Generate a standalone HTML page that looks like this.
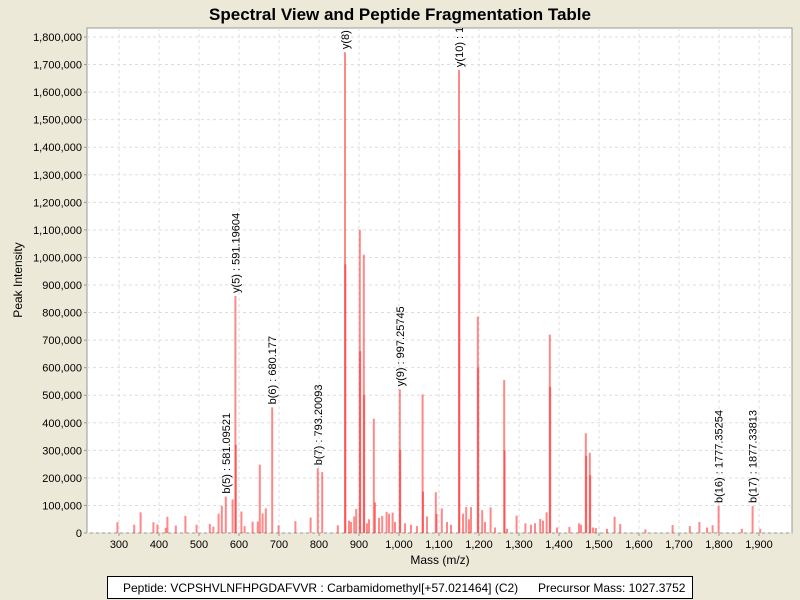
<!DOCTYPE html>
<html><head><meta charset="utf-8"><style>
body{margin:0;background:#ECE9D8;font-family:"Liberation Sans",sans-serif;}
svg{display:block}
</style></head><body>
<svg id="chart" width="800" height="600">
<rect width="800" height="600" fill="#ECE9D8"/>
<text x="400" y="20" text-anchor="middle" font-size="17" font-weight="bold">Spectral View and Peptide Fragmentation Table</text>
<defs><clipPath id="pc"><rect x="87" y="28" width="705" height="505"/></clipPath></defs>
<rect x="87" y="28" width="705" height="505" fill="#fff" stroke="#999"/>
<g id="grid"></g><g id="axes"></g><g id="bars" clip-path="url(#pc)"></g><g id="labels" clip-path="url(#pc)"></g>
<text x="440" y="564" text-anchor="middle" font-size="12">Mass (m/z)</text>
<text transform="translate(22,280) rotate(-90)" text-anchor="middle" font-size="12">Peak Intensity</text>
<rect x="107.5" y="576.5" width="585" height="22" fill="#fff" stroke="#000"/>
<text x="123" y="592" font-size="12">Peptide: VCPSHVLNFHPGDAFVVR : Carbamidomethyl[+57.021464] (C2)</text>
<text x="538" y="592" font-size="12">Precursor Mass: 1027.3752</text>
</svg>
<script>
const masses=[296,338,354,386,396,417,421,442,466,494,527,536,549,557,567,584,591,592,606,614,634,647,652,659,667,683,699,741,779,797,808,847,865,866,893,902,903,912,913,937,940,958,969,984,1002,1003,1059,1060,1092,1094,1107,1150,1151,1168,1180,1197,1198,1208,1229,1263,1264,1294,1316,1353,1369,1377,1378,1426,1450,1467,1468,1477,1478,1492,1539,1553,1616,1684,1727,1751,1784,1799,1857,1884,1903,875,880,888,920,925,950,975,990,1015,1030,1045,1070,1120,1130,1160,1175,1215,1240,1270,1330,1340,1360,1395,1455,1485,1520,1770];
const intens=[39,30,75,39,31,19,59,27,62,30,33,23,70,98,132,122,860,320,78,25,41,42,248,71,89,456,28,43,56,235,221,28,1745,975,87,1100,660,1010,500,415,111,62,77,74,521,300,503,150,148,69,89,1680,1390,94,94,785,600,83,93,555,300,63,35,51,75,720,530,22,35,362,280,291,210,18,59,33,13,29,25,40,28,98,15,98,15,45,40,60,35,50,55,70,40,35,30,25,60,40,30,70,50,40,20,15,30,35,45,20,30,20,15,20];
const labelText=["b(5) : 581.09521","y(5) : 591.19604","b(6) : 680.177","b(7) : 793.20093","y(8) : 862.31","y(9) : 997.25745","y(10) : 1147.3","b(16) : 1777.35254","b(17) : 1877.33813"];
const labelIdx=[14,16,25,29,32,44,51,81,83];
const yTicks=[0,100000,200000,300000,400000,500000,600000,700000,800000,900000,1000000,1100000,1200000,1300000,1400000,1500000,1600000,1700000,1800000];
const xTicks=[300,400,500,600,700,800,900,1000,1100,1200,1300,1400,1500,1600,1700,1800,1900];
const NS="http://www.w3.org/2000/svg";
const X=m=>119+(m-300)*0.4;
const Y=v=>533-v/1800000*496;
function mk(t,a,p){const e=document.createElementNS(NS,t);for(const k in a)e.setAttribute(k,a[k]);document.getElementById(p).appendChild(e);return e;}
yTicks.forEach(v=>{
 const g=mk('line',{x1:87,x2:792,y1:Y(v),y2:Y(v),stroke:'#ddd','stroke-dasharray':'3,3'},'grid');
 
 
 const t=mk('text',{x:82,y:Y(v)+4,'text-anchor':'end','font-size':11},'axes');
 t.textContent=v.toLocaleString('en-US');
 
 
 mk('line',{x1:84,x2:87,y1:Y(v),y2:Y(v),stroke:'#999'},'axes');
});
xTicks.forEach(v=>{
 const g=mk('line',{x1:X(v),x2:X(v),y1:28,y2:533,stroke:'#ddd','stroke-dasharray':'3,3'},'grid');
 
 
 const t=mk('text',{x:X(v),y:548,'text-anchor':'middle','font-size':11},'axes');
 t.textContent=v.toLocaleString('en-US');
 
 
 mk('line',{x1:X(v),x2:X(v),y1:533,y2:536,stroke:'#999'},'axes');
});
masses.forEach((m,i)=>{
 const b=mk('rect',{x:X(m)-1,y:Y(intens[i]*1000),width:2,height:533-Y(intens[i]*1000),fill:'rgba(255,40,40,0.55)'},'bars');
 
 
});
labelIdx.forEach((idx,j)=>{
 const x=X(masses[idx])+4,y=Y(intens[idx]*1000)-3;
 const t=mk('text',{transform:`translate(${x},${y}) rotate(-90)`,'font-size':11},'labels');
 t.textContent=labelText[j];
 
 
});
</script>
</body></html>
